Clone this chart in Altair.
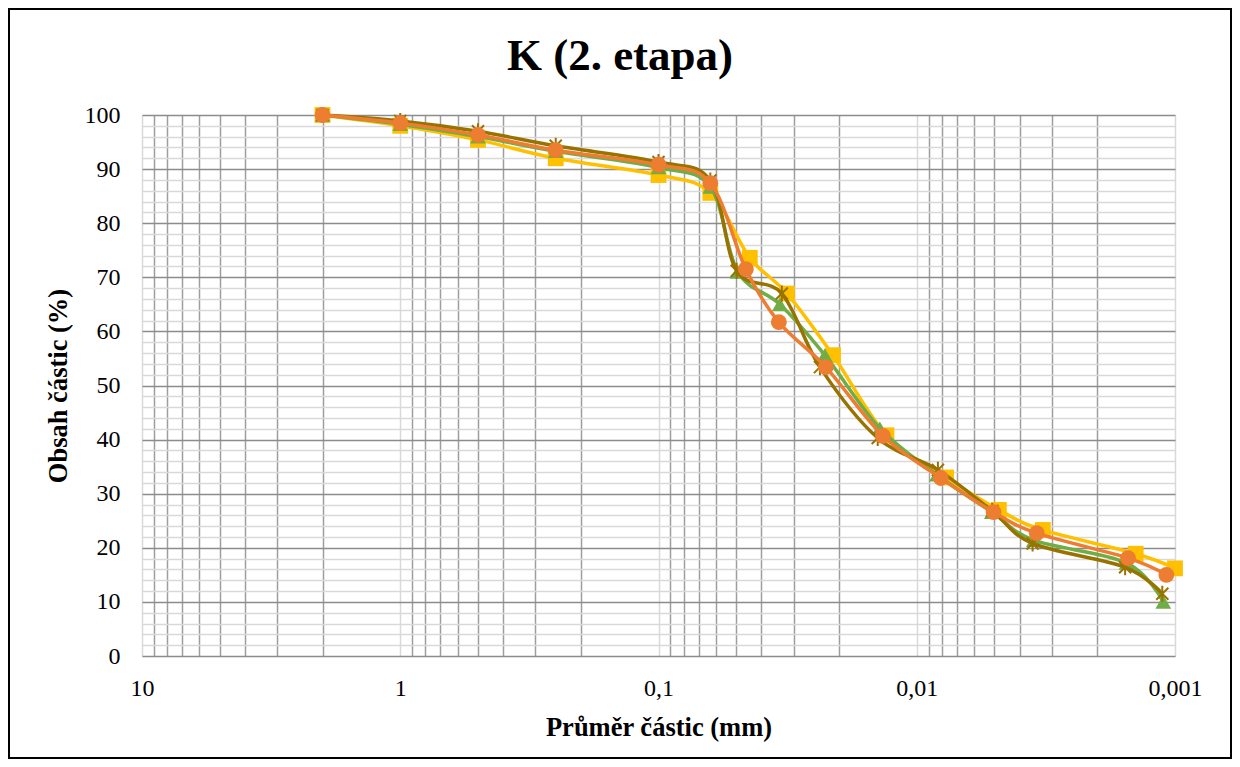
import altair as alt
import pandas as pd

# --- data ---
chart_title = ["K (2. etapa)"]
series_names = ["Vzorek 1", "Vzorek 2", "Vzorek 3", "Vzorek 4"]
series_colors = ["#FFC000", "#70AD47", "#997300", "#ED7D31"]

x_s1 = [2, 1, 0.5, 0.25, 0.1, 0.063, 0.0443, 0.0318, 0.0211, 0.0131, 0.0077, 0.00481, 0.00325, 0.00142, 0.001]
y_s1 = [100, 98.0, 95.4, 92.0, 88.9, 85.6, 73.6, 67.0, 55.6, 40.8, 33.0, 27.0, 23.3, 18.9, 16.2]

x_s2 = [2, 1, 0.5, 0.25, 0.1, 0.063, 0.0493, 0.0339, 0.0227, 0.0139, 0.00835, 0.00512, 0.00352, 0.00154, 0.00111]
y_s2 = [100, 98.3, 96.0, 93.3, 90.3, 86.7, 71.0, 65.0, 55.6, 42.1, 33.5, 26.6, 21.4, 17.2, 10.0]

x_s3 = [2, 1, 0.5, 0.25, 0.1, 0.063, 0.0498, 0.0333, 0.0237, 0.01416, 0.00828, 0.0051, 0.00356, 0.00156, 0.00112]
y_s3 = [100, 98.9, 97.0, 94.3, 91.3, 87.9, 71.2, 67.0, 53.4, 40.3, 34.4, 26.8, 20.8, 16.4, 11.5]

x_s4 = [2, 1, 0.5, 0.25, 0.1, 0.063, 0.0459, 0.0342, 0.0225, 0.01352, 0.00807, 0.00504, 0.00343, 0.00152, 0.00108]
y_s4 = [100, 98.5, 96.3, 93.5, 90.8, 87.4, 71.5, 61.7, 53.4, 40.7, 32.9, 26.6, 22.7, 18.1, 15.0]

series_x = [x_s1, x_s2, x_s3, x_s4]
series_y = [y_s1, y_s2, y_s3, y_s4]

x_grid_values = [m * 10 ** k for k in range(-3, 1) for m in range(1, 10)] + [10]
y_grid_values = list(range(0, 101, 2))

FONT = "Liberation Serif"
W, H = 1033, 541

decade_test = "abs(log(datum.value)/LN10 - round(log(datum.value)/LN10)) < 1e-6"

x_axis = alt.Axis(
    values=x_grid_values,
    labelExpr=f"({decade_test}) ? replace(datum.value + '', '.', ',') : ''",
    title="Průměr částic (mm)",
    grid=True,
    gridColor={"condition": {"test": decade_test, "value": "#d9d9d9"}, "value": "#9e9e9e"},
    gridWidth=1.5,
    ticks=False,
    domain=False,
    labelFont=FONT, labelFontSize=24, labelColor="#000", labelPadding=20,
    labelOverlap=False, labelFlush=False,
    titleFont=FONT, titleFontSize=26.5, titleFontWeight="bold", titleColor="#000",
    titlePadding=14,
)
y_axis = alt.Axis(
    values=y_grid_values,
    labelExpr="datum.value % 10 === 0 ? datum.value + '' : ''",
    title="Obsah částic (%)",
    grid=True,
    gridColor={"condition": {"test": "datum.value % 10 === 0", "value": "#8c8c8c"}, "value": "#d9d9d9"},
    gridWidth=1.5,
    ticks=False,
    domain=False,
    labelFont=FONT, labelFontSize=24, labelColor="#000", labelPadding=22,
    labelOverlap=False,
    titleFont=FONT, titleFontSize=26.5, titleFontWeight="bold", titleColor="#000",
    titlePadding=12,
)

x_scale = alt.Scale(type="log", domain=[0.001, 10], reverse=True, nice=False)
y_scale = alt.Scale(domain=[0, 100], nice=False)

shapes = ["square", "triangle-up",
          "M-0.75,-0.75L0.75,0.75M-0.75,0.75L0.75,-0.75M0,-1L0,1",
          "circle"]

layers = []
for name, color, xs, ys, shape in zip(series_names, series_colors, series_x, series_y, shapes):
    df = pd.DataFrame({"d": xs, "p": ys, "s": name})
    enc = dict(
        x=alt.X("d:Q", scale=x_scale, axis=x_axis),
        y=alt.Y("p:Q", scale=y_scale, axis=y_axis),
    )
    line = alt.Chart(df).mark_line(color=color, strokeWidth=3.5, interpolate="cardinal").encode(**enc)
    if shape.startswith("M"):
        pts = alt.Chart(df).mark_point(shape=shape, filled=False, color=color, strokeWidth=2,
                                       size=260, opacity=1).encode(**enc)
    else:
        pts = alt.Chart(df).mark_point(shape=shape, filled=True, color=color, size=250,
                                       opacity=1).encode(**enc)
    layers += [line, pts]

frame_df = pd.DataFrame({"k": [0]})
frame = alt.Chart(frame_df).mark_rect(fill=None, stroke="#000", strokeWidth=2, clip=False).encode(
    x=alt.value(-133), x2=alt.value(1089), y=alt.value(-106), y2=alt.value(643)
)

title_df = pd.DataFrame({"t": chart_title})
title = alt.Chart(title_df).mark_text(
    font=FONT, fontSize=45, fontWeight="bold", color="#000",
    align="center", baseline="alphabetic",
).encode(text="t:N", x=alt.value(478), y=alt.value(-45))

chart = alt.layer(frame, *layers, title).properties(
    width=W, height=H,
    autosize=alt.AutoSizeParams(type="none"),
    padding={"left": 134, "top": 107, "right": 57, "bottom": 103},
).configure_view(stroke=None).configure(background="white")

chart.save("out.html", embed_options={"renderer": "svg", "actions": False})
